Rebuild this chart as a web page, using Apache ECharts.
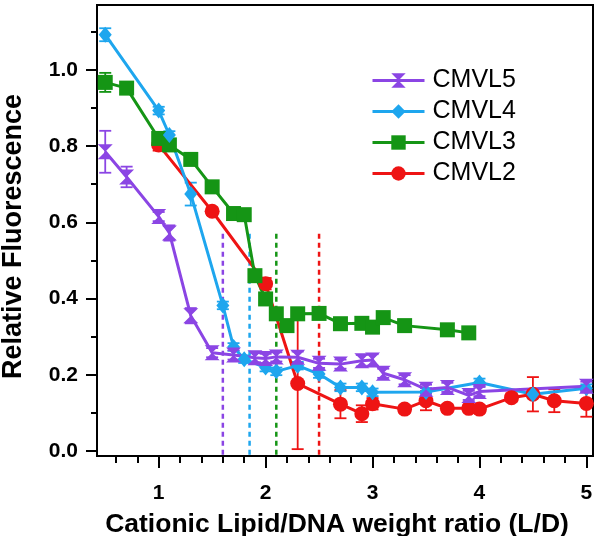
<!DOCTYPE html>
<html><head><meta charset="utf-8">
<script src="https://cdn.jsdelivr.net/npm/echarts@6/dist/echarts.min.js"></script>
<style>html,body{margin:0;padding:0;background:#fff}#c{width:600px;height:536px}</style>
</head><body><div id="c"></div>
<script>
const FONT = "'Liberation Sans', Arial, sans-serif";
const names = ['CMVL5', 'CMVL4', 'CMVL3', 'CMVL2'];
const colors = ['#8b45e4', '#1ea6ee', '#159515', '#ee1414'];

const x5 = [0.5,0.7,1.0,1.1,1.3,1.5,1.7,1.9,2.0,2.1,2.3,2.5,2.7,2.9,3.0,3.1,3.3,3.5,3.7,3.9,4.0,5.0];
const y5 = [0.785,0.719,0.615,0.572,0.355,0.258,0.252,0.245,0.243,0.247,0.246,0.230,0.228,0.237,0.239,0.204,0.187,0.162,0.167,0.146,0.156,0.170];
const e5 = [0.055,0.027,0.012,0.02,0.02,0.012,0.012,0.012,0.012,0.012,0.015,0.012,0.012,0.015,0.015,0.012,0.012,0.012,0.012,0.012,0.012,0.012];

const x4 = [0.5,1.0,1.1,1.3,1.6,1.7,1.8,2.0,2.1,2.3,2.5,2.7,2.9,3.0,3.5,4.0,4.5,5.0];
const y4 = [1.092,0.893,0.829,0.674,0.382,0.273,0.241,0.219,0.209,0.224,0.202,0.167,0.167,0.154,0.155,0.180,0.149,0.165];
const e4 = [0.017,0.01,0.01,0.03,0.01,0.01,0.01,0.01,0.01,0.01,0.01,0.01,0.01,0.01,0.01,0.01,0.01,0.01];

const x3 = [0.5,0.7,1.0,1.1,1.3,1.5,1.7,1.8,1.9,2.0,2.1,2.2,2.3,2.5,2.7,2.9,3.0,3.1,3.3,3.7,3.9];
const y3 = [0.967,0.952,0.82,0.803,0.765,0.693,0.623,0.62,0.46,0.399,0.36,0.329,0.36,0.361,0.334,0.335,0.325,0.35,0.329,0.318,0.31];
const e3 = [0.025,0.01,0.01,0.01,0.01,0.01,0.01,0.01,0.01,0.01,0.01,0.01,0.01,0.01,0.01,0.01,0.01,0.01,0.01,0.01,0.01];

const x2 = [1.0,1.5,2.0,2.3,2.7,2.9,3.0,3.3,3.5,3.7,3.9,4.0,4.3,4.5,4.7,5.0];
const y2 = [0.803,0.629,0.439,0.177,0.123,0.098,0.124,0.11,0.132,0.112,0.112,0.11,0.14,0.149,0.132,0.125];
const e2 = [0.015,0.01,0.015,0.172,0.037,0.022,0.015,0.01,0.025,0.01,0.01,0.01,0.01,0.045,0.03,0.035];

const thresholdX = [1.6, 1.85, 2.1, 2.5];
const thresholdTop = 0.57;

const xTicks = [1, 2, 3, 4, 5];
const yTicks = ['0.0', '0.2', '0.4', '0.6', '0.8', '1.0'];

const X_MIN = 0.423, X_MAX = 5.062, Y_MIN = -0.013, Y_MAX = 1.17;

const sets = [
  {x: x5, y: y5, e: e5, sym: 'path://M0,0 L10,0 L5,5 L10,10 L0,10 L5,5 Z', size: [15, 15]},
  {x: x4, y: y4, e: e4, sym: 'diamond', size: [13, 16]},
  {x: x3, y: y3, e: e3, sym: 'rect', size: 15},
  {x: x2, y: y2, e: e2, sym: 'circle', size: 15}
];

function errSeries(s, color) {
  return {
    type: 'custom', silent: true, z: 1,
    data: s.x.map((v, i) => [v, s.y[i] - s.e[i], s.y[i] + s.e[i]]),
    encode: {x: 0, y: [1, 2]},
    renderItem: function (params, api) {
      const lo = api.coord([api.value(0), api.value(1)]);
      const hi = api.coord([api.value(0), api.value(2)]);
      const w = 6;
      const st = {stroke: color, lineWidth: 1.8};
      return {type: 'group', children: [
        {type: 'line', shape: {x1: lo[0], y1: lo[1], x2: hi[0], y2: hi[1]}, style: st},
        {type: 'line', shape: {x1: lo[0] - w, y1: lo[1], x2: lo[0] + w, y2: lo[1]}, style: st},
        {type: 'line', shape: {x1: hi[0] - w, y1: hi[1], x2: hi[0] + w, y2: hi[1]}, style: st}
      ]};
    }
  };
}

const series = [];
thresholdX.forEach((tx, i) => {
  series.push({
    type: 'line', silent: true, symbol: 'none', z: 1,
    data: [[tx, thresholdTop], [tx, Y_MIN]],
    lineStyle: {color: colors[i], width: 2.5, type: [5, 4]}
  });
});
for (let i = sets.length - 1; i >= 0; i--) series.push(errSeries(sets[i], colors[i]));
for (let i = sets.length - 1; i >= 0; i--) {
  const s = sets[i];
  series.push({
    name: names[i], type: 'line', z: 3,
    data: s.x.map((v, k) => [v, s.y[k]]),
    symbol: s.sym, symbolSize: s.size, showAllSymbol: true,
    itemStyle: {color: colors[i]},
    lineStyle: {color: colors[i], width: 3}
  });
}

const chart = echarts.init(document.getElementById('c'), null, {renderer: 'canvas'});
chart.setOption({
  animation: false,
  backgroundColor: '#fff',
  textStyle: {fontFamily: FONT},
  grid: {left: 97, right: 7, top: 5, bottom: 80, show: true, borderColor: '#000', borderWidth: 2,
    containLabel: false, outerBoundsMode: 'none'},
  legend: {
    data: names, orient: 'vertical', left: 366, top: 63,
    itemWidth: 52, itemHeight: 18, itemGap: 6,
    lineStyle: {width: 3},
    textStyle: {fontSize: 25, color: '#000', fontFamily: FONT, padding: [0, 0, 0, 3]},
    selectedMode: false
  },
  xAxis: {
    type: 'value', min: X_MIN, max: X_MAX, splitNumber: 5,
    name: 'Cationic Lipid/DNA weight ratio (L/D)', nameLocation: 'middle', nameGap: 55,
    nameTextStyle: {fontSize: 26.5, fontWeight: 'bold', color: '#000', fontFamily: FONT, padding: [0, 16, 0, 0]},
    axisLine: {show: true, onZero: false, lineStyle: {color: '#000', width: 2}},
    axisTick: {show: true, inside: false, length: 12, lineStyle: {color: '#000', width: 2}, customValues: xTicks},
    minorTick: {show: true, splitNumber: 5, length: 7, lineStyle: {color: '#000', width: 2}},
    axisLabel: {show: true, margin: 27, fontSize: 21, fontWeight: 'bold', color: '#000', fontFamily: FONT,
      customValues: xTicks, formatter: v => String(Math.round(v))},
    splitLine: {show: false}
  },
  yAxis: {
    type: 'value', min: Y_MIN, max: Y_MAX, splitNumber: 6,
    name: 'Relative Fluorescence', nameLocation: 'middle', nameGap: 70, nameRotate: 90,
    nameTextStyle: {fontSize: 27, fontWeight: 'bold', color: '#000', fontFamily: FONT, padding: [0, 12, 0, 0]},
    axisLine: {show: true, onZero: false, lineStyle: {color: '#000', width: 2}},
    axisTick: {show: true, inside: false, length: 11, lineStyle: {color: '#000', width: 2}, customValues: yTicks.map(Number)},
    minorTick: {show: true, splitNumber: 2, length: 6, lineStyle: {color: '#000', width: 2}},
    axisLabel: {show: true, margin: 19, fontSize: 21, fontWeight: 'bold', color: '#000', fontFamily: FONT,
      customValues: yTicks.map(Number), formatter: v => v.toFixed(1)},
    splitLine: {show: false}
  },
  series: series
});
</script></body></html>
